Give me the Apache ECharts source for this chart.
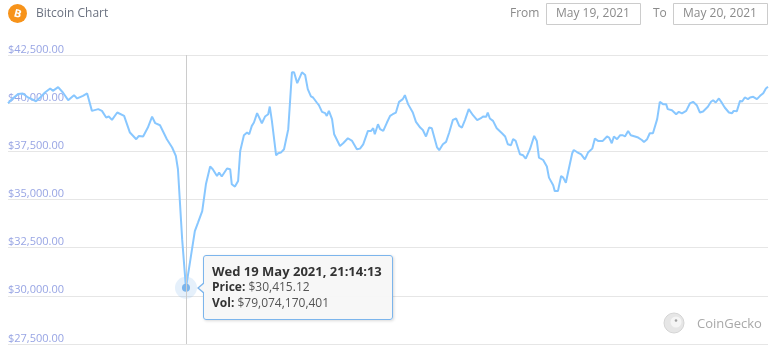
<!DOCTYPE html>
<html>
<head>
<meta charset="utf-8">
<script src="https://cdn.jsdelivr.net/npm/echarts@6/dist/echarts.min.js"></script>
<style>
  html, body { margin: 0; padding: 0; background: #ffffff; }
  #chart { width: 780px; height: 351px; }
</style>
</head>
<body>
<div id="chart"></div>
<script>
// minutes after 19 May 2021 15:37:00 (UTC)
const minuteOffsets = [
  0, 9, 19, 28, 38, 45, 53, 61, 70, 80,
  85, 95, 104, 114, 125, 131, 142, 150, 159, 171,
  178, 186, 191, 197, 207, 220, 231, 243, 248, 256,
  265, 273, 279, 288, 301, 311, 318, 322, 330, 337.2167,
  354, 360, 368, 375, 383, 388, 396, 400, 405, 415,
  421, 424, 430, 436, 440, 447, 453, 457, 462, 466,
  472, 481, 487, 493, 496, 500, 508, 512, 517, 523,
  531, 538, 542, 548, 557, 563, 568, 574, 578, 585,
  589, 595, 601, 604, 608, 614, 618, 629, 635, 644,
  652, 661, 667, 673, 676, 682, 688, 692, 695, 701,
  705, 711, 718, 724, 729, 735, 741, 748, 752, 758,
  767, 773, 781, 786, 792, 798, 803, 807, 813, 817,
  824, 830, 836, 843, 849, 855, 860, 866, 873, 881,
  889, 896, 900, 906, 909, 913, 919, 926, 936, 942,
  947, 953, 957, 962, 970, 976, 981, 989, 997, 1002,
  1006, 1014, 1021, 1025, 1033, 1036, 1042, 1048, 1052, 1057,
  1061, 1069, 1072, 1078, 1086, 1093, 1099, 1107, 1112, 1118,
  1127, 1135, 1139, 1144, 1148, 1154, 1160, 1165, 1169, 1175,
  1180, 1188, 1194, 1201, 1205, 1211, 1216, 1222, 1230, 1235,
  1241, 1247, 1250, 1258, 1266, 1271, 1277, 1285, 1292, 1298,
  1305, 1311, 1317, 1326, 1332, 1336, 1341, 1347, 1353, 1358,
  1366, 1372, 1375, 1381, 1387, 1391, 1396, 1402, 1406, 1412,
  1419, 1425, 1431, 1436, 1440
];

const prices = [
  40000, 40245, 40470, 40500, 40295, 40210, 40100, 40295, 40555, 40765,
  40640, 40830, 40555, 40155, 40415, 40245, 40380, 40505, 39600, 39690,
  39600, 39255, 39305, 39135, 39515, 39340, 38475, 38130, 38300, 38270,
  38735, 39305, 38960, 38855, 38130, 37700, 37260, 36570, 32930, 30415.12,
  33360, 33800, 34400, 35790, 36710, 36570, 36220, 36400, 36190, 36610,
  36570, 35790, 35670, 35960, 37520, 38335, 38475, 38385, 38820, 38995,
  39480, 38960, 39305, 39425, 39825, 39080, 37295, 37400, 37435, 37610,
  38650, 41600, 41600, 41040, 41600, 41460, 40730, 40350, 40295, 40035,
  39895, 39550, 39480, 39340, 39600, 39170, 38385, 37780, 37920, 38180,
  38040, 37610, 37640, 37865, 37815, 38560, 38560, 38700, 38385, 38905,
  38650, 38560, 38995, 39340, 39425, 39515, 40070, 40210, 40415, 39950,
  39515, 39030, 38735, 38610, 38270, 38735, 38700, 38300, 37700, 37560,
  37865, 37990, 38475, 39135, 39205, 38820, 38735, 39135, 39690, 39375,
  39115, 39220, 39305, 39290, 39515, 39205, 39080, 38700, 38440, 38270,
  37865, 37815, 38130, 38040, 37345, 37295, 37120, 37610, 38300, 38040,
  37175, 37050, 36710, 36135, 35735, 35435, 35435, 36220, 36135, 35870,
  36390, 37400, 37570, 37465, 37345, 37085, 37435, 37640, 38160, 38040,
  38040, 38270, 38215, 37920, 38270, 38130, 38335, 38335, 38270, 38560,
  38335, 38270, 38215, 38090, 37990, 38130, 38440, 38440, 39170, 40070,
  39950, 39950, 39690, 39635, 39425, 39550, 39465, 39600, 39985, 40070,
  39895, 39515, 39570, 39810, 40070, 40155, 40035, 40245, 40000, 39775,
  39515, 39480, 39600, 39585, 40120, 40090, 40295, 40210, 40295, 40330,
  40210, 40380, 40520, 40765, 40850
];

const yTicks = [27500, 30000, 32500, 35000, 37500, 40000, 42500];

const tipIndex = 39;
const tipVolume = 79074170401;

const fromDate = 'May 19, 2021';
const toDate = 'May 20, 2021';

const startTime = Date.UTC(2021, 4, 19, 15, 37, 0);
const FONT = "'Open Sans', 'Noto Sans', sans-serif";
const LINE_COLOR = '#7cb5ec';

const seriesData = minuteOffsets.map((m, i) => [startTime + Math.round(m * 60) * 1000, prices[i]]);

const days = ['Sun', 'Mon', 'Tue', 'Wed', 'Thu', 'Fri', 'Sat'];
const months = ['Jan', 'Feb', 'Mar', 'Apr', 'May', 'Jun', 'Jul', 'Aug', 'Sep', 'Oct', 'Nov', 'Dec'];
function pad(n) { return String(n).padStart(2, '0'); }
function formatTime(ts) {
  const d = new Date(ts);
  return `${days[d.getUTCDay()]} ${d.getUTCDate()} ${months[d.getUTCMonth()]} ${d.getUTCFullYear()}, ` +
    `${pad(d.getUTCHours())}:${pad(d.getUTCMinutes())}:${pad(d.getUTCSeconds())}`;
}
function money(v, digits) {
  return '$' + v.toLocaleString('en-US', { minimumFractionDigits: digits, maximumFractionDigits: digits });
}

const chart = echarts.init(document.getElementById('chart'));

const option = {
  animation: false,
  useUTC: true,
  textStyle: { fontFamily: FONT },
  grid: { left: 8, right: 12, top: 55, bottom: 7, containLabel: false },
  xAxis: {
    type: 'time',
    min: startTime,
    max: startTime + 1440 * 60000,
    axisLine: { show: false },
    axisTick: { show: false },
    axisLabel: { show: false },
    splitLine: { show: false }
  },
  yAxis: {
    type: 'value',
    min: yTicks[0],
    max: yTicks[yTicks.length - 1],
    interval: 2500,
    axisLine: { show: false },
    axisTick: { show: false },
    axisLabel: {
      inside: true,
      margin: 0,
      verticalAlign: 'bottom',
      color: '#98a5e4',
      fontSize: 11,
      fontFamily: FONT,
      formatter: v => money(v, 2)
    },
    splitLine: { lineStyle: { color: '#e6e6e6', width: 1 } }
  },
  tooltip: {
    show: true,
    trigger: 'axis',
    triggerOn: 'none',
    alwaysShowContent: true,
    transitionDuration: 0,
    backgroundColor: 'rgba(247,247,247,0.95)',
    borderColor: LINE_COLOR,
    borderWidth: 1,
    padding: [7, 10, 8, 8],
    extraCssText: `border:1px solid ${LINE_COLOR} !important; border-radius:3px; box-shadow:1px 1px 3px rgba(0,0,0,0.15); line-height:16px;`,
    textStyle: { color: '#333333', fontSize: 12, fontFamily: FONT },
    axisPointer: {
      type: 'line',
      animation: false,
      lineStyle: { color: '#cccccc', width: 1, type: 'solid' },
      label: { show: false }
    },
    position: function () {
      const p = chart.convertToPixel({ seriesIndex: 0 }, seriesData[tipIndex]);
      return [p[0] + 17, p[1] - 33];
    },
    formatter: function (params) {
      const item = params.find(p => p.seriesIndex === 0) || params[0];
      const ts = item.data[0];
      const price = item.data[1];
      const arrow =
        `<span style="position:absolute;left:-7px;top:26px;width:0;height:0;border-top:6px solid transparent;border-bottom:6px solid transparent;border-right:7px solid ${LINE_COLOR};"></span>` +
        `<span style="position:absolute;left:-5px;top:27px;width:0;height:0;border-top:5px solid transparent;border-bottom:5px solid transparent;border-right:6px solid #f7f7f7;"></span>`;
      return arrow +
        `<div style="font-weight:bold;font-size:13px;color:#333">${formatTime(ts)}</div>` +
        `<div><b>Price:</b> <span style="color:#555">${money(price, 2)}</span></div>` +
        `<div><b>Vol:</b> <span style="color:#555">${money(tipVolume, 0)}</span></div>`;
    }
  },
  graphic: [
    { type: 'circle', shape: { cx: 17.5, cy: 13.5, r: 9.5 }, style: { fill: '#f7931a' } },
    { type: 'text', style: { x: 17.5, y: 14, text: 'B', fill: '#ffffff', font: `bold 11px ${FONT}`, align: 'center', verticalAlign: 'middle' }, rotation: -0.25, originX: 17.5, originY: 14 },
    { type: 'text', style: { x: 36, y: 14, text: 'Bitcoin Chart', fill: '#6b7280', font: `12px ${FONT}`, verticalAlign: 'middle' } },
    { type: 'text', style: { x: 510, y: 14, text: 'From', fill: '#8a8a8a', font: `12px ${FONT}`, verticalAlign: 'middle' } },
    { type: 'rect', shape: { x: 546.5, y: 3.5, width: 94, height: 21 }, style: { fill: '#ffffff', stroke: '#cccccc', lineWidth: 1 } },
    { type: 'text', style: { x: 556, y: 14, text: fromDate, fill: '#8a8a8a', font: `12px ${FONT}`, verticalAlign: 'middle' } },
    { type: 'text', style: { x: 653, y: 14, text: 'To', fill: '#8a8a8a', font: `12px ${FONT}`, verticalAlign: 'middle' } },
    { type: 'rect', shape: { x: 673.5, y: 3.5, width: 94, height: 21 }, style: { fill: '#ffffff', stroke: '#cccccc', lineWidth: 1 } },
    { type: 'text', style: { x: 683, y: 14, text: toDate, fill: '#8a8a8a', font: `12px ${FONT}`, verticalAlign: 'middle' } },
    // CoinGecko badge
    { type: 'circle', shape: { cx: 674, cy: 323, r: 10 }, style: { fill: '#e6e6e6', stroke: '#d4d4d4', lineWidth: 1 } },
    { type: 'circle', shape: { cx: 676, cy: 322, r: 5.5 }, style: { fill: '#f5f5f5' } },
    { type: 'circle', shape: { cx: 676, cy: 320.5, r: 1.3 }, style: { fill: '#a0a0a0' } },
    { type: 'text', style: { x: 697, y: 324, text: 'CoinGecko', fill: '#a9a9a9', font: `13px ${FONT}`, verticalAlign: 'middle' } }
  ],
  series: [
    {
      name: 'Price',
      type: 'line',
      data: seriesData,
      showSymbol: false,
      symbol: 'circle',
      symbolSize: 8,
      itemStyle: { color: LINE_COLOR },
      lineStyle: { color: LINE_COLOR, width: 2 },
      emphasis: { scale: false, lineStyle: { width: 2 } },
      z: 3
    },
    {
      name: 'Halo',
      type: 'scatter',
      data: [seriesData[tipIndex]],
      symbolSize: 22,
      itemStyle: { color: 'rgba(124,181,236,0.25)' },
      emphasis: { disabled: true },
      silent: true,
      z: 2
    }
  ]
};

chart.setOption(option);
chart.dispatchAction({ type: 'showTip', seriesIndex: 0, dataIndex: tipIndex });
</script>
</body>
</html>
